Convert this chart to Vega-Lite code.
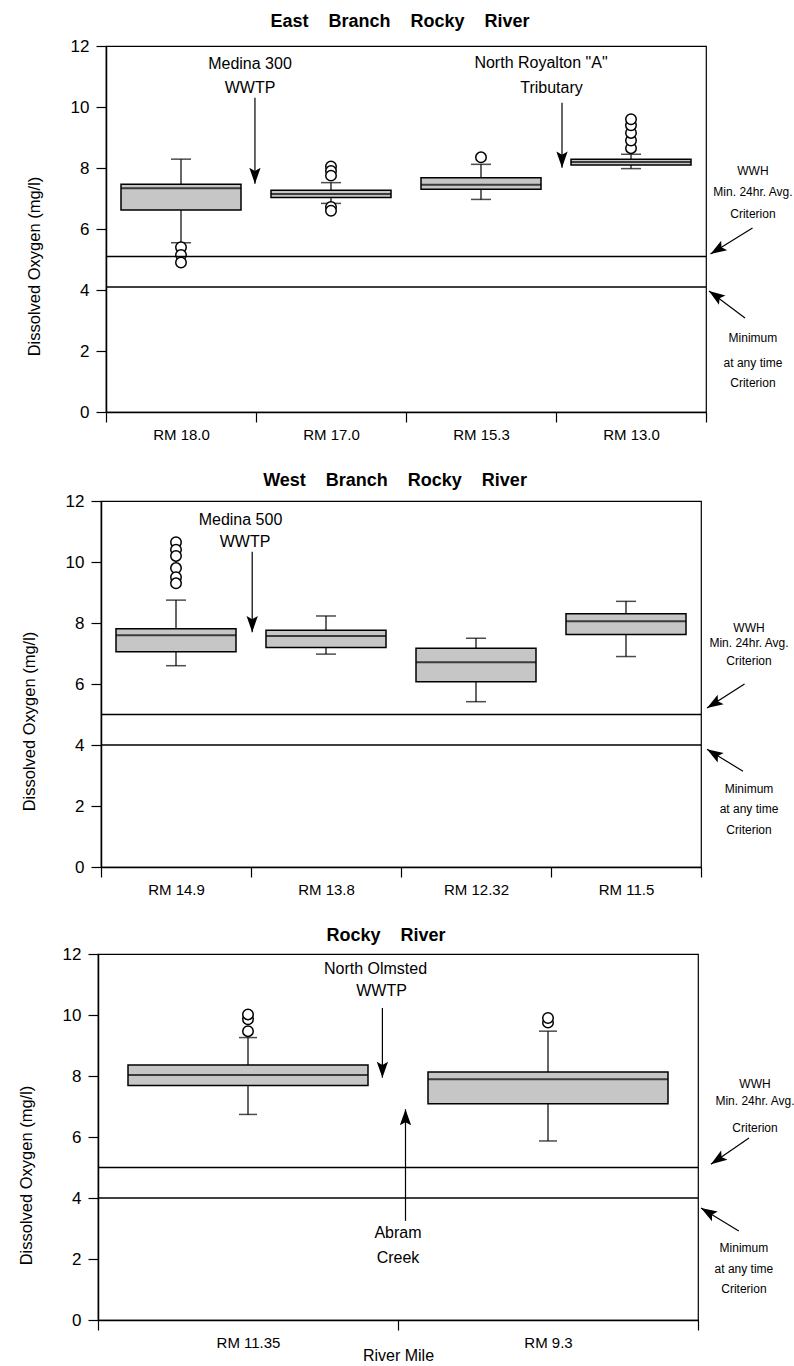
{
  "$schema": "https://vega.github.io/schema/vega-lite/v6.json",
  "background": "white",
  "padding": {"left": 10, "top": 12, "right": 0, "bottom": 0},
  "columns": 1,
  "align": "none",
  "spacing": 28,
  "datasets": {
    "boxes": [
      {"panel": "E", "site": "RM 18.0", "lower": 5.55, "q1": 6.62, "median": 7.34, "q3": 7.47, "upper": 8.29},
      {"panel": "E", "site": "RM 17.0", "lower": 6.84, "q1": 7.03, "median": 7.15, "q3": 7.27, "upper": 7.52},
      {"panel": "E", "site": "RM 15.3", "lower": 6.97, "q1": 7.30, "median": 7.45, "q3": 7.68, "upper": 8.12},
      {"panel": "E", "site": "RM 13.0", "lower": 7.98, "q1": 8.10, "median": 8.20, "q3": 8.29, "upper": 8.45},
      {"panel": "W", "site": "RM 14.9", "lower": 6.6, "q1": 7.06, "median": 7.6, "q3": 7.81, "upper": 8.75},
      {"panel": "W", "site": "RM 13.8", "lower": 6.98, "q1": 7.2, "median": 7.57, "q3": 7.76, "upper": 8.23},
      {"panel": "W", "site": "RM 12.32", "lower": 5.42, "q1": 6.07, "median": 6.71, "q3": 7.17, "upper": 7.5},
      {"panel": "W", "site": "RM 11.5", "lower": 6.9, "q1": 7.62, "median": 8.06, "q3": 8.3, "upper": 8.71},
      {"panel": "R", "site": "RM 11.35", "lower": 6.74, "q1": 7.69, "median": 8.03, "q3": 8.36, "upper": 9.26},
      {"panel": "R", "site": "RM 9.3", "lower": 5.87, "q1": 7.09, "median": 7.89, "q3": 8.13, "upper": 9.47}
    ],
    "outliers": [
      {"panel": "E", "site": "RM 18.0", "value": 5.4},
      {"panel": "E", "site": "RM 18.0", "value": 5.15},
      {"panel": "E", "site": "RM 18.0", "value": 4.9},
      {"panel": "E", "site": "RM 17.0", "value": 8.05},
      {"panel": "E", "site": "RM 17.0", "value": 7.9},
      {"panel": "E", "site": "RM 17.0", "value": 7.75},
      {"panel": "E", "site": "RM 17.0", "value": 6.72},
      {"panel": "E", "site": "RM 17.0", "value": 6.6},
      {"panel": "E", "site": "RM 15.3", "value": 8.35},
      {"panel": "E", "site": "RM 13.0", "value": 8.65},
      {"panel": "E", "site": "RM 13.0", "value": 8.9},
      {"panel": "E", "site": "RM 13.0", "value": 9.15},
      {"panel": "E", "site": "RM 13.0", "value": 9.4},
      {"panel": "E", "site": "RM 13.0", "value": 9.6},
      {"panel": "W", "site": "RM 14.9", "value": 10.65},
      {"panel": "W", "site": "RM 14.9", "value": 10.4},
      {"panel": "W", "site": "RM 14.9", "value": 10.2},
      {"panel": "W", "site": "RM 14.9", "value": 9.8},
      {"panel": "W", "site": "RM 14.9", "value": 9.5},
      {"panel": "W", "site": "RM 14.9", "value": 9.3},
      {"panel": "R", "site": "RM 11.35", "value": 9.47},
      {"panel": "R", "site": "RM 11.35", "value": 9.86},
      {"panel": "R", "site": "RM 11.35", "value": 10.02},
      {"panel": "R", "site": "RM 9.3", "value": 9.75},
      {"panel": "R", "site": "RM 9.3", "value": 9.9}
    ],
    "criteria": [
      {"panel": "E", "value": 5.1},
      {"panel": "E", "value": 4.1},
      {"panel": "W", "value": 5.0},
      {"panel": "W", "value": 4.0},
      {"panel": "R", "value": 5.0},
      {"panel": "R", "value": 4.0}
    ],
    "arrows": [
      {"panel": "E", "kind": "down", "x": 0.993, "y": 10.3, "x2": 0.993, "y2": 7.48},
      {"panel": "E", "kind": "down", "x": 3.04, "y": 10.14, "x2": 3.04, "y2": 8.01},
      {"panel": "E", "kind": "wwh", "x": 4.31, "y": 6.03, "x2": 4.03, "y2": 5.18},
      {"panel": "E", "kind": "min", "x": 4.26, "y": 3.08, "x2": 4.02, "y2": 3.97},
      {"panel": "W", "kind": "down", "x": 1.008, "y": 10.34, "x2": 1.008, "y2": 7.7},
      {"panel": "W", "kind": "wwh", "x": 4.29, "y": 6.0, "x2": 4.04, "y2": 5.21},
      {"panel": "W", "kind": "min", "x": 4.28, "y": 3.14, "x2": 4.04, "y2": 3.86},
      {"panel": "R", "kind": "down", "x": 0.948, "y": 10.23, "x2": 0.948, "y2": 7.94},
      {"panel": "R", "kind": "up", "x": 1.025, "y": 3.25, "x2": 1.025, "y2": 6.91},
      {"panel": "R", "kind": "wwh", "x": 2.17, "y": 5.97, "x2": 2.043, "y2": 5.11},
      {"panel": "R", "kind": "min", "x": 2.136, "y": 2.92, "x2": 2.01, "y2": 3.67}
    ],
    "notes": [
      {"panel": "E", "kind": "source", "text": "Medina 300", "x": 0.96, "y": 11.41},
      {"panel": "E", "kind": "source", "text": "WWTP", "x": 0.96, "y": 10.62},
      {"panel": "E", "kind": "source", "text": "North Royalton \"A\"", "x": 2.9, "y": 11.44},
      {"panel": "E", "kind": "source", "text": "Tributary", "x": 2.97, "y": 10.62},
      {"panel": "E", "kind": "criterion", "text": "WWH", "x": 4.313, "y": 7.9},
      {"panel": "E", "kind": "criterion", "text": "Min. 24hr. Avg.", "x": 4.313, "y": 7.2},
      {"panel": "E", "kind": "criterion", "text": "Criterion", "x": 4.313, "y": 6.5},
      {"panel": "E", "kind": "criterion", "text": "Minimum", "x": 4.313, "y": 2.43},
      {"panel": "E", "kind": "criterion", "text": "at any time", "x": 4.313, "y": 1.61},
      {"panel": "E", "kind": "criterion", "text": "Criterion", "x": 4.313, "y": 0.95},
      {"panel": "W", "kind": "source", "text": "Medina 500", "x": 0.93, "y": 11.39},
      {"panel": "W", "kind": "source", "text": "WWTP", "x": 0.96, "y": 10.67},
      {"panel": "W", "kind": "criterion", "text": "WWH", "x": 4.32, "y": 7.82},
      {"panel": "W", "kind": "criterion", "text": "Min. 24hr. Avg.", "x": 4.32, "y": 7.33},
      {"panel": "W", "kind": "criterion", "text": "Criterion", "x": 4.32, "y": 6.77},
      {"panel": "W", "kind": "criterion", "text": "Minimum", "x": 4.32, "y": 2.57},
      {"panel": "W", "kind": "criterion", "text": "at any time", "x": 4.32, "y": 1.91},
      {"panel": "W", "kind": "criterion", "text": "Criterion", "x": 4.32, "y": 1.22},
      {"panel": "R", "kind": "source", "text": "North Olmsted", "x": 0.925, "y": 11.51},
      {"panel": "R", "kind": "source", "text": "WWTP", "x": 0.945, "y": 10.79},
      {"panel": "R", "kind": "source", "text": "Abram", "x": 1.0, "y": 2.85},
      {"panel": "R", "kind": "source", "text": "Creek", "x": 1.0, "y": 2.03},
      {"panel": "R", "kind": "criterion", "text": "WWH", "x": 2.19, "y": 7.74},
      {"panel": "R", "kind": "criterion", "text": "Min. 24hr. Avg.", "x": 2.19, "y": 7.18},
      {"panel": "R", "kind": "criterion", "text": "Criterion", "x": 2.19, "y": 6.3},
      {"panel": "R", "kind": "criterion", "text": "Minimum", "x": 2.153, "y": 2.36},
      {"panel": "R", "kind": "criterion", "text": "at any time", "x": 2.153, "y": 1.67},
      {"panel": "R", "kind": "criterion", "text": "Criterion", "x": 2.153, "y": 1.02}
    ]
  },
  "concat": [
    {
      "spacing": 0,
      "hconcat": [
        {"width": 12, "height": 366, "view": {"stroke": null}, "data": {"values": [{"blank": 0}]}, "mark": {"type": "point", "opacity": 0}, "encoding": {}},
        {
          "title": {"text": "East\u00a0\u00a0\u00a0\u00a0Branch\u00a0\u00a0\u00a0\u00a0Rocky\u00a0\u00a0\u00a0\u00a0River", "dx": -6, "offset": 6},
          "width": 600,
          "height": 366,
          "resolve": {"scale": {"x": "independent"}},
          "layer": [
            {
              "encoding": {
                "x": {"field": "site", "type": "nominal", "scale": {"domain": ["RM 18.0", "RM 17.0", "RM 15.3", "RM 13.0"], "paddingInner": 0, "paddingOuter": 0},
                  "axis": {"title": null, "tickBand": "extent", "labelAngle": 0, "labelFont": "Liberation Sans", "labelFontSize": 15, "labelPadding": 5, "tickSize": 10}}
              },
              "layer": [
                {"data": {"name": "boxes"}, "transform": [{"filter": "datum.panel === 'E'"}],
                 "mark": {"type": "rule", "color": "black", "strokeWidth": 1.2},
                 "encoding": {"y": {"field": "lower", "type": "quantitative", "scale": {"domain": [0, 12], "nice": false},
                   "axis": {"title": "Dissolved Oxygen (mg/l)", "values": [0,1,2,3,4,5,6,7,8,9,10,11,12], "labelExpr": "datum.value % 2 === 0 ? datum.label : ''", "tickSize": {"condition": {"test": "datum.value % 2 === 0", "value": 10}, "value": 5}, "labelFont": "Liberation Sans", "labelFontSize": 17, "labelPadding": 7, "titleFont": "Liberation Sans", "titleFontSize": 16.5, "titleFontWeight": "normal", "titlePadding": 28, "titleY": 220}},
                   "y2": {"field": "q1"}}},
                {"data": {"name": "boxes"}, "transform": [{"filter": "datum.panel === 'E'"}],
                 "mark": {"type": "rule", "color": "black", "strokeWidth": 1.2},
                 "encoding": {"y": {"field": "q3", "type": "quantitative"}, "y2": {"field": "upper"}}},
                {"data": {"name": "boxes"}, "transform": [{"filter": "datum.panel === 'E'"}],
                 "mark": {"type": "bar", "fill": "#c6c6c6", "stroke": "black", "strokeWidth": 1.5, "width": {"band": 0.8}},
                 "encoding": {"y": {"field": "q1", "type": "quantitative"}, "y2": {"field": "q3"}}},
                {"data": {"name": "boxes"}, "transform": [{"filter": "datum.panel === 'E'"}],
                 "mark": {"type": "tick", "color": "black", "size": 120, "thickness": 2, "orient": "horizontal"},
                 "encoding": {"y": {"field": "median", "type": "quantitative"}}},
                {"data": {"name": "boxes"}, "transform": [{"filter": "datum.panel === 'E'"}],
                 "mark": {"type": "tick", "color": "black", "size": 20, "thickness": 1.5, "orient": "horizontal"},
                 "encoding": {"y": {"field": "lower", "type": "quantitative"}}},
                {"data": {"name": "boxes"}, "transform": [{"filter": "datum.panel === 'E'"}],
                 "mark": {"type": "tick", "color": "black", "size": 20, "thickness": 1.5, "orient": "horizontal"},
                 "encoding": {"y": {"field": "upper", "type": "quantitative"}}},
                {"data": {"name": "outliers"}, "transform": [{"filter": "datum.panel === 'E'"}],
                 "mark": {"type": "point", "shape": "circle", "filled": true, "fill": "white", "stroke": "black", "strokeWidth": 1.5, "size": 110, "opacity": 1},
                 "encoding": {"y": {"field": "value", "type": "quantitative"}}}
              ]
            },
            {
              "layer": [
                {"data": {"name": "criteria"}, "transform": [{"filter": "datum.panel === 'E'"}],
                 "mark": {"type": "rule", "color": "black", "strokeWidth": 1.5},
                 "encoding": {"y": {"field": "value", "type": "quantitative"}}},
                {"data": {"name": "arrows"}, "transform": [{"filter": "datum.panel === 'E'"}],
                 "mark": {"type": "rule", "color": "black", "strokeWidth": 1.2},
                 "encoding": {"x": {"field": "x", "type": "quantitative", "scale": {"domain": [0, 4], "nice": false, "zero": false}, "axis": null}, "y": {"field": "y", "type": "quantitative"}, "x2": {"field": "x2"}, "y2": {"field": "y2"}}},
                {"data": {"name": "arrows"}, "transform": [{"filter": "datum.panel === 'E' && datum.kind === 'down'"}],
                 "mark": {"type": "point", "shape": "M0,0L0.7,2L0,1.6L-0.7,2Z", "filled": true, "fill": "black", "strokeWidth": 0, "size": 260, "angle": 180, "opacity": 1},
                 "encoding": {"x": {"field": "x2", "type": "quantitative", "scale": {"domain": [0, 4], "nice": false, "zero": false}, "axis": null}, "y": {"field": "y2", "type": "quantitative"}}},
                {"data": {"name": "arrows"}, "transform": [{"filter": "datum.panel === 'E' && datum.kind === 'wwh'"}],
                 "mark": {"type": "point", "shape": "M0,0L0.7,2L0,1.6L-0.7,2Z", "filled": true, "fill": "black", "strokeWidth": 0, "size": 260, "angle": 238, "opacity": 1},
                 "encoding": {"x": {"field": "x2", "type": "quantitative", "scale": {"domain": [0, 4], "nice": false, "zero": false}, "axis": null}, "y": {"field": "y2", "type": "quantitative"}}},
                {"data": {"name": "arrows"}, "transform": [{"filter": "datum.panel === 'E' && datum.kind === 'min'"}],
                 "mark": {"type": "point", "shape": "M0,0L0.7,2L0,1.6L-0.7,2Z", "filled": true, "fill": "black", "strokeWidth": 0, "size": 260, "angle": 305, "opacity": 1},
                 "encoding": {"x": {"field": "x2", "type": "quantitative", "scale": {"domain": [0, 4], "nice": false, "zero": false}, "axis": null}, "y": {"field": "y2", "type": "quantitative"}}},
                {"data": {"name": "notes"}, "transform": [{"filter": "datum.panel === 'E' && datum.kind === 'source'"}],
                 "mark": {"type": "text", "font": "Liberation Sans", "fontSize": 16, "align": "center", "baseline": "middle", "color": "black"},
                 "encoding": {"x": {"field": "x", "type": "quantitative", "scale": {"domain": [0, 4], "nice": false, "zero": false}, "axis": null}, "y": {"field": "y", "type": "quantitative"}, "text": {"field": "text"}}},
                {"data": {"name": "notes"}, "transform": [{"filter": "datum.panel === 'E' && datum.kind === 'criterion'"}],
                 "mark": {"type": "text", "font": "Liberation Sans", "fontSize": 12, "align": "center", "baseline": "middle", "color": "black"},
                 "encoding": {"x": {"field": "x", "type": "quantitative", "scale": {"domain": [0, 4], "nice": false, "zero": false}, "axis": null}, "y": {"field": "y", "type": "quantitative"}, "text": {"field": "text"}}}
              ]
            }
          ]
        }
      ]
    },
    {
      "spacing": 0,
      "hconcat": [
        {"width": 7, "height": 366, "view": {"stroke": null}, "data": {"values": [{"blank": 0}]}, "mark": {"type": "point", "opacity": 0}, "encoding": {}},
        {
          "title": {"text": "West\u00a0\u00a0\u00a0\u00a0Branch\u00a0\u00a0\u00a0\u00a0Rocky\u00a0\u00a0\u00a0\u00a0River", "dx": -6, "offset": 2},
          "width": 600,
          "height": 366,
          "resolve": {"scale": {"x": "independent"}},
          "layer": [
            {
              "encoding": {
                "x": {"field": "site", "type": "nominal", "scale": {"domain": ["RM 14.9", "RM 13.8", "RM 12.32", "RM 11.5"], "paddingInner": 0, "paddingOuter": 0},
                  "axis": {"title": null, "tickBand": "extent", "labelAngle": 0, "labelFont": "Liberation Sans", "labelFontSize": 15, "labelPadding": 5, "tickSize": 10}}
              },
              "layer": [
                {"data": {"name": "boxes"}, "transform": [{"filter": "datum.panel === 'W'"}],
                 "mark": {"type": "rule", "color": "black", "strokeWidth": 1.2},
                 "encoding": {"y": {"field": "lower", "type": "quantitative", "scale": {"domain": [0, 12], "nice": false},
                   "axis": {"title": "Dissolved Oxygen (mg/l)", "values": [0,1,2,3,4,5,6,7,8,9,10,11,12], "labelExpr": "datum.value % 2 === 0 ? datum.label : ''", "tickSize": {"condition": {"test": "datum.value % 2 === 0", "value": 10}, "value": 5}, "labelFont": "Liberation Sans", "labelFontSize": 17, "labelPadding": 7, "titleFont": "Liberation Sans", "titleFontSize": 16.5, "titleFontWeight": "normal", "titlePadding": 28, "titleY": 220}},
                   "y2": {"field": "q1"}}},
                {"data": {"name": "boxes"}, "transform": [{"filter": "datum.panel === 'W'"}],
                 "mark": {"type": "rule", "color": "black", "strokeWidth": 1.2},
                 "encoding": {"y": {"field": "q3", "type": "quantitative"}, "y2": {"field": "upper"}}},
                {"data": {"name": "boxes"}, "transform": [{"filter": "datum.panel === 'W'"}],
                 "mark": {"type": "bar", "fill": "#c6c6c6", "stroke": "black", "strokeWidth": 1.5, "width": {"band": 0.8}},
                 "encoding": {"y": {"field": "q1", "type": "quantitative"}, "y2": {"field": "q3"}}},
                {"data": {"name": "boxes"}, "transform": [{"filter": "datum.panel === 'W'"}],
                 "mark": {"type": "tick", "color": "black", "size": 120, "thickness": 2, "orient": "horizontal"},
                 "encoding": {"y": {"field": "median", "type": "quantitative"}}},
                {"data": {"name": "boxes"}, "transform": [{"filter": "datum.panel === 'W'"}],
                 "mark": {"type": "tick", "color": "black", "size": 20, "thickness": 1.5, "orient": "horizontal"},
                 "encoding": {"y": {"field": "lower", "type": "quantitative"}}},
                {"data": {"name": "boxes"}, "transform": [{"filter": "datum.panel === 'W'"}],
                 "mark": {"type": "tick", "color": "black", "size": 20, "thickness": 1.5, "orient": "horizontal"},
                 "encoding": {"y": {"field": "upper", "type": "quantitative"}}},
                {"data": {"name": "outliers"}, "transform": [{"filter": "datum.panel === 'W'"}],
                 "mark": {"type": "point", "shape": "circle", "filled": true, "fill": "white", "stroke": "black", "strokeWidth": 1.5, "size": 110, "opacity": 1},
                 "encoding": {"y": {"field": "value", "type": "quantitative"}}}
              ]
            },
            {
              "layer": [
                {"data": {"name": "criteria"}, "transform": [{"filter": "datum.panel === 'W'"}],
                 "mark": {"type": "rule", "color": "black", "strokeWidth": 1.5},
                 "encoding": {"y": {"field": "value", "type": "quantitative"}}},
                {"data": {"name": "arrows"}, "transform": [{"filter": "datum.panel === 'W'"}],
                 "mark": {"type": "rule", "color": "black", "strokeWidth": 1.2},
                 "encoding": {"x": {"field": "x", "type": "quantitative", "scale": {"domain": [0, 4], "nice": false, "zero": false}, "axis": null}, "y": {"field": "y", "type": "quantitative"}, "x2": {"field": "x2"}, "y2": {"field": "y2"}}},
                {"data": {"name": "arrows"}, "transform": [{"filter": "datum.panel === 'W' && datum.kind === 'down'"}],
                 "mark": {"type": "point", "shape": "M0,0L0.7,2L0,1.6L-0.7,2Z", "filled": true, "fill": "black", "strokeWidth": 0, "size": 260, "angle": 180, "opacity": 1},
                 "encoding": {"x": {"field": "x2", "type": "quantitative", "scale": {"domain": [0, 4], "nice": false, "zero": false}, "axis": null}, "y": {"field": "y2", "type": "quantitative"}}},
                {"data": {"name": "arrows"}, "transform": [{"filter": "datum.panel === 'W' && datum.kind === 'wwh'"}],
                 "mark": {"type": "point", "shape": "M0,0L0.7,2L0,1.6L-0.7,2Z", "filled": true, "fill": "black", "strokeWidth": 0, "size": 260, "angle": 238, "opacity": 1},
                 "encoding": {"x": {"field": "x2", "type": "quantitative", "scale": {"domain": [0, 4], "nice": false, "zero": false}, "axis": null}, "y": {"field": "y2", "type": "quantitative"}}},
                {"data": {"name": "arrows"}, "transform": [{"filter": "datum.panel === 'W' && datum.kind === 'min'"}],
                 "mark": {"type": "point", "shape": "M0,0L0.7,2L0,1.6L-0.7,2Z", "filled": true, "fill": "black", "strokeWidth": 0, "size": 260, "angle": 302, "opacity": 1},
                 "encoding": {"x": {"field": "x2", "type": "quantitative", "scale": {"domain": [0, 4], "nice": false, "zero": false}, "axis": null}, "y": {"field": "y2", "type": "quantitative"}}},
                {"data": {"name": "notes"}, "transform": [{"filter": "datum.panel === 'W' && datum.kind === 'source'"}],
                 "mark": {"type": "text", "font": "Liberation Sans", "fontSize": 16, "align": "center", "baseline": "middle", "color": "black"},
                 "encoding": {"x": {"field": "x", "type": "quantitative", "scale": {"domain": [0, 4], "nice": false, "zero": false}, "axis": null}, "y": {"field": "y", "type": "quantitative"}, "text": {"field": "text"}}},
                {"data": {"name": "notes"}, "transform": [{"filter": "datum.panel === 'W' && datum.kind === 'criterion'"}],
                 "mark": {"type": "text", "font": "Liberation Sans", "fontSize": 12, "align": "center", "baseline": "middle", "color": "black"},
                 "encoding": {"x": {"field": "x", "type": "quantitative", "scale": {"domain": [0, 4], "nice": false, "zero": false}, "axis": null}, "y": {"field": "y", "type": "quantitative"}, "text": {"field": "text"}}}
              ]
            }
          ]
        }
      ]
    },
    {
      "spacing": 0,
      "hconcat": [
        {"width": 1, "height": 366, "view": {"stroke": null}, "data": {"values": [{"blank": 0}]}, "mark": {"type": "point", "opacity": 0}, "encoding": {}},
        {
          "title": {"text": "Rocky\u00a0\u00a0\u00a0\u00a0River", "dx": -12, "offset": 0},
          "width": 600,
          "height": 366,
          "resolve": {"scale": {"x": "independent"}},
          "layer": [
            {
              "encoding": {
                "x": {"field": "site", "type": "nominal", "scale": {"domain": ["RM 11.35", "RM 9.3"], "paddingInner": 0, "paddingOuter": 0},
                  "axis": {"title": "River Mile", "titleFont": "Liberation Sans", "titleFontSize": 16, "titleFontWeight": "normal", "titleY": 35, "titleBaseline": "middle", "tickBand": "extent", "labelAngle": 0, "labelFont": "Liberation Sans", "labelFontSize": 15, "labelPadding": 5, "tickSize": 10}}
              },
              "layer": [
                {"data": {"name": "boxes"}, "transform": [{"filter": "datum.panel === 'R'"}],
                 "mark": {"type": "rule", "color": "black", "strokeWidth": 1.2},
                 "encoding": {"y": {"field": "lower", "type": "quantitative", "scale": {"domain": [0, 12], "nice": false},
                   "axis": {"title": "Dissolved Oxygen (mg/l)", "values": [0,1,2,3,4,5,6,7,8,9,10,11,12], "labelExpr": "datum.value % 2 === 0 ? datum.label : ''", "tickSize": {"condition": {"test": "datum.value % 2 === 0", "value": 10}, "value": 5}, "labelFont": "Liberation Sans", "labelFontSize": 17, "labelPadding": 7, "titleFont": "Liberation Sans", "titleFontSize": 16.5, "titleFontWeight": "normal", "titlePadding": 28, "titleY": 221}},
                   "y2": {"field": "q1"}}},
                {"data": {"name": "boxes"}, "transform": [{"filter": "datum.panel === 'R'"}],
                 "mark": {"type": "rule", "color": "black", "strokeWidth": 1.2},
                 "encoding": {"y": {"field": "q3", "type": "quantitative"}, "y2": {"field": "upper"}}},
                {"data": {"name": "boxes"}, "transform": [{"filter": "datum.panel === 'R'"}],
                 "mark": {"type": "bar", "fill": "#c6c6c6", "stroke": "black", "strokeWidth": 1.5, "width": {"band": 0.8}},
                 "encoding": {"y": {"field": "q1", "type": "quantitative"}, "y2": {"field": "q3"}}},
                {"data": {"name": "boxes"}, "transform": [{"filter": "datum.panel === 'R'"}],
                 "mark": {"type": "tick", "color": "black", "size": 240, "thickness": 2, "orient": "horizontal"},
                 "encoding": {"y": {"field": "median", "type": "quantitative"}}},
                {"data": {"name": "boxes"}, "transform": [{"filter": "datum.panel === 'R'"}],
                 "mark": {"type": "tick", "color": "black", "size": 18, "thickness": 1.5, "orient": "horizontal"},
                 "encoding": {"y": {"field": "lower", "type": "quantitative"}}},
                {"data": {"name": "boxes"}, "transform": [{"filter": "datum.panel === 'R'"}],
                 "mark": {"type": "tick", "color": "black", "size": 18, "thickness": 1.5, "orient": "horizontal"},
                 "encoding": {"y": {"field": "upper", "type": "quantitative"}}},
                {"data": {"name": "outliers"}, "transform": [{"filter": "datum.panel === 'R'"}],
                 "mark": {"type": "point", "shape": "circle", "filled": true, "fill": "white", "stroke": "black", "strokeWidth": 1.5, "size": 110, "opacity": 1},
                 "encoding": {"y": {"field": "value", "type": "quantitative"}}}
              ]
            },
            {
              "layer": [
                {"data": {"name": "criteria"}, "transform": [{"filter": "datum.panel === 'R'"}],
                 "mark": {"type": "rule", "color": "black", "strokeWidth": 1.5},
                 "encoding": {"y": {"field": "value", "type": "quantitative"}}},
                {"data": {"name": "arrows"}, "transform": [{"filter": "datum.panel === 'R'"}],
                 "mark": {"type": "rule", "color": "black", "strokeWidth": 1.2},
                 "encoding": {"x": {"field": "x", "type": "quantitative", "scale": {"domain": [0, 2], "nice": false, "zero": false}, "axis": null}, "y": {"field": "y", "type": "quantitative"}, "x2": {"field": "x2"}, "y2": {"field": "y2"}}},
                {"data": {"name": "arrows"}, "transform": [{"filter": "datum.panel === 'R' && datum.kind === 'down'"}],
                 "mark": {"type": "point", "shape": "M0,0L0.7,2L0,1.6L-0.7,2Z", "filled": true, "fill": "black", "strokeWidth": 0, "size": 260, "angle": 180, "opacity": 1},
                 "encoding": {"x": {"field": "x2", "type": "quantitative", "scale": {"domain": [0, 2], "nice": false, "zero": false}, "axis": null}, "y": {"field": "y2", "type": "quantitative"}}},
                {"data": {"name": "arrows"}, "transform": [{"filter": "datum.panel === 'R' && datum.kind === 'up'"}],
                 "mark": {"type": "point", "shape": "M0,0L0.7,2L0,1.6L-0.7,2Z", "filled": true, "fill": "black", "strokeWidth": 0, "size": 260, "angle": 0, "opacity": 1},
                 "encoding": {"x": {"field": "x2", "type": "quantitative", "scale": {"domain": [0, 2], "nice": false, "zero": false}, "axis": null}, "y": {"field": "y2", "type": "quantitative"}}},
                {"data": {"name": "arrows"}, "transform": [{"filter": "datum.panel === 'R' && datum.kind === 'wwh'"}],
                 "mark": {"type": "point", "shape": "M0,0L0.7,2L0,1.6L-0.7,2Z", "filled": true, "fill": "black", "strokeWidth": 0, "size": 260, "angle": 236, "opacity": 1},
                 "encoding": {"x": {"field": "x2", "type": "quantitative", "scale": {"domain": [0, 2], "nice": false, "zero": false}, "axis": null}, "y": {"field": "y2", "type": "quantitative"}}},
                {"data": {"name": "arrows"}, "transform": [{"filter": "datum.panel === 'R' && datum.kind === 'min'"}],
                 "mark": {"type": "point", "shape": "M0,0L0.7,2L0,1.6L-0.7,2Z", "filled": true, "fill": "black", "strokeWidth": 0, "size": 260, "angle": 301, "opacity": 1},
                 "encoding": {"x": {"field": "x2", "type": "quantitative", "scale": {"domain": [0, 2], "nice": false, "zero": false}, "axis": null}, "y": {"field": "y2", "type": "quantitative"}}},
                {"data": {"name": "notes"}, "transform": [{"filter": "datum.panel === 'R' && datum.kind === 'source'"}],
                 "mark": {"type": "text", "font": "Liberation Sans", "fontSize": 16, "align": "center", "baseline": "middle", "color": "black"},
                 "encoding": {"x": {"field": "x", "type": "quantitative", "scale": {"domain": [0, 2], "nice": false, "zero": false}, "axis": null}, "y": {"field": "y", "type": "quantitative"}, "text": {"field": "text"}}},
                {"data": {"name": "notes"}, "transform": [{"filter": "datum.panel === 'R' && datum.kind === 'criterion'"}],
                 "mark": {"type": "text", "font": "Liberation Sans", "fontSize": 12, "align": "center", "baseline": "middle", "color": "black"},
                 "encoding": {"x": {"field": "x", "type": "quantitative", "scale": {"domain": [0, 2], "nice": false, "zero": false}, "axis": null}, "y": {"field": "y", "type": "quantitative"}, "text": {"field": "text"}}}
              ]
            }
          ]
        }
      ]
    }
  ],
  "config": {
    "font": "Liberation Sans",
    "view": {"stroke": "black", "strokeWidth": 1.2},
    "axis": {"domainColor": "black", "domainWidth": 1.5, "tickColor": "black", "tickWidth": 1.2, "labelColor": "black", "titleColor": "black", "grid": false},
    "title": {"font": "Liberation Sans", "fontSize": 18, "fontWeight": "bold", "color": "black", "anchor": "middle"}
  }
}
